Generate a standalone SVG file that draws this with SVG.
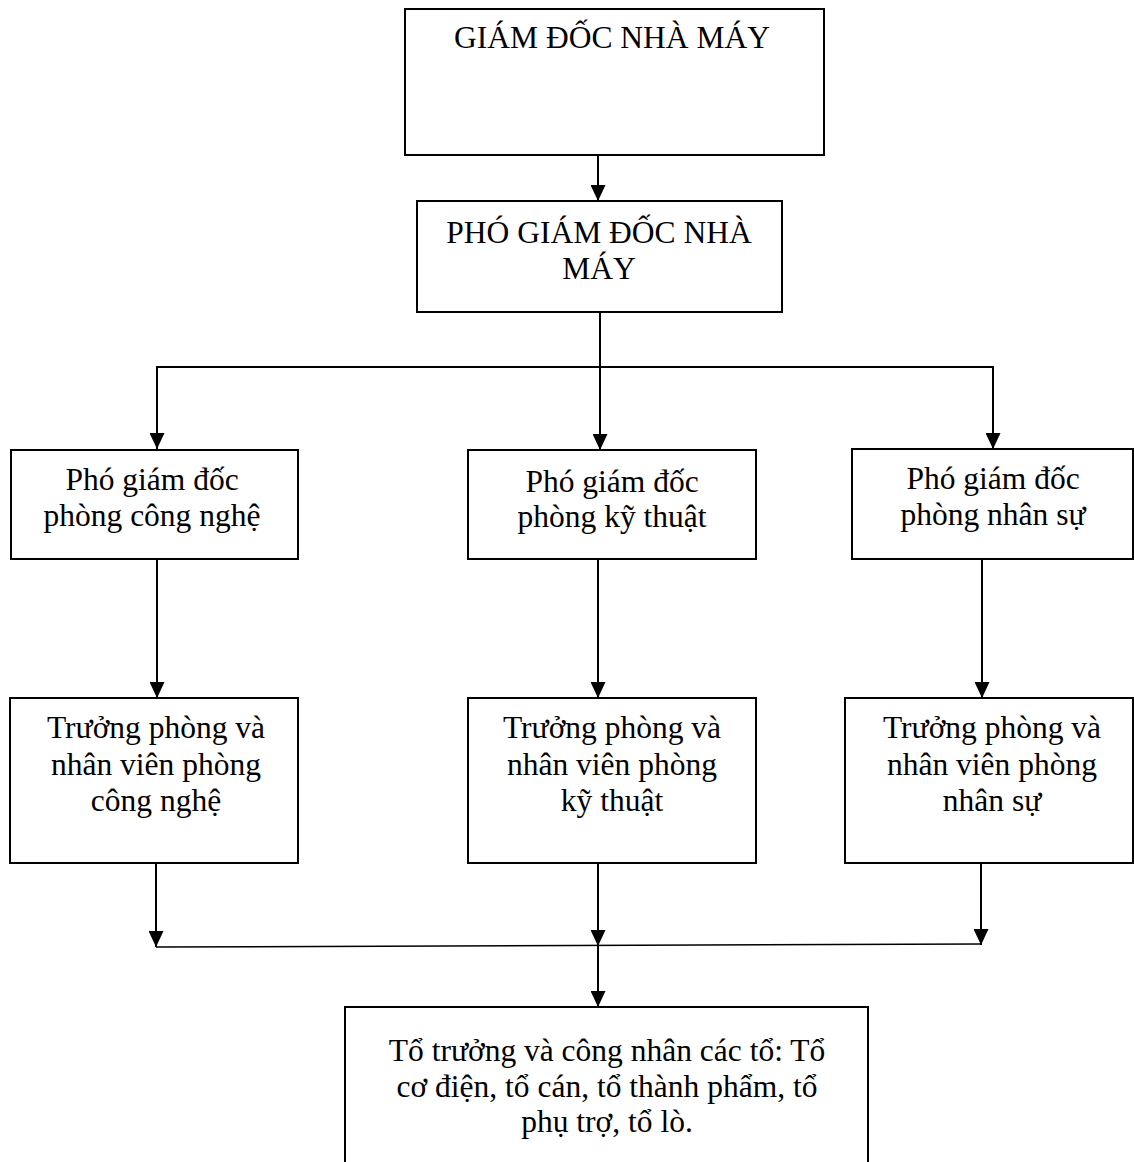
<svg xmlns="http://www.w3.org/2000/svg" width="1134" height="1162" viewBox="0 0 1134 1162">
  <style>
    .box { fill: #ffffff; stroke: #000000; stroke-width: 2; }
    .lbl { font-family: "Liberation Serif", "Times New Roman", serif; font-size: 31.5px; fill: #000000; text-anchor: middle; }
    .wire { fill: none; stroke: #000000; stroke-width: 2; }
    .thin { fill: none; stroke: #000000; stroke-width: 1.5; }
  </style>
  <defs>
    <marker id="head" markerUnits="userSpaceOnUse" markerWidth="16" markerHeight="15" refX="16" refY="7.5" orient="auto">
      <path d="M0,0 L16,7.5 L0,15 Z" fill="#000000"/>
    </marker>
  </defs>
  <rect width="1134" height="1162" fill="#ffffff"/>

  <!-- connectors -->
  <g id="connectors">
    <line class="wire" x1="598" y1="155" x2="598" y2="201" marker-end="url(#head)"/>
    <line class="wire" x1="600" y1="312" x2="600" y2="450" marker-end="url(#head)"/>
    <line class="wire" x1="156" y1="367" x2="994" y2="367"/>
    <line class="wire" x1="157" y1="366" x2="157" y2="449" marker-end="url(#head)"/>
    <line class="wire" x1="993" y1="366" x2="993" y2="449" marker-end="url(#head)"/>
    <line class="wire" x1="157" y1="559" x2="157" y2="698" marker-end="url(#head)"/>
    <line class="wire" x1="598" y1="559" x2="598" y2="698" marker-end="url(#head)"/>
    <line class="wire" x1="982" y1="559" x2="982" y2="698" marker-end="url(#head)"/>
    <line class="wire" x1="156" y1="863" x2="156" y2="947" marker-end="url(#head)"/>
    <line class="wire" x1="598" y1="863" x2="598" y2="946" marker-end="url(#head)"/>
    <line class="wire" x1="981" y1="863" x2="981" y2="945" marker-end="url(#head)"/>
    <line class="thin" x1="156" y1="947" x2="981" y2="944"/>
    <line class="wire" x1="598" y1="946" x2="598" y2="1007" marker-end="url(#head)"/>
  </g>

  <!-- level 1 -->
  <g id="giam-doc">
    <rect class="box" x="405" y="9" width="419" height="146"/>
    <text class="lbl" x="612" y="48">GIÁM ĐỐC NHÀ MÁY</text>
  </g>

  <!-- level 2 -->
  <g id="pho-giam-doc">
    <rect class="box" x="417" y="201" width="365" height="111"/>
    <text class="lbl" x="599" y="243">PHÓ GIÁM ĐỐC NHÀ</text>
    <text class="lbl" x="599" y="279">MÁY</text>
  </g>

  <!-- level 3 -->
  <g id="pgd-cong-nghe">
    <rect class="box" x="11" y="450" width="287" height="109"/>
    <text class="lbl" x="152" y="490">Phó giám đốc</text>
    <text class="lbl" x="152" y="526">phòng công nghệ</text>
  </g>
  <g id="pgd-ky-thuat">
    <rect class="box" x="468" y="450" width="288" height="109"/>
    <text class="lbl" x="612" y="492">Phó giám đốc</text>
    <text class="lbl" x="612" y="527">phòng kỹ thuật</text>
  </g>
  <g id="pgd-nhan-su">
    <rect class="box" x="852" y="449" width="281" height="110"/>
    <text class="lbl" x="993" y="489">Phó giám đốc</text>
    <text class="lbl" x="993" y="525">phòng nhân sự</text>
  </g>

  <!-- level 4 -->
  <g id="tp-cong-nghe">
    <rect class="box" x="10" y="698" width="288" height="165"/>
    <text class="lbl" x="156" y="738">Trưởng phòng và</text>
    <text class="lbl" x="156" y="775">nhân viên phòng</text>
    <text class="lbl" x="156" y="811">công nghệ</text>
  </g>
  <g id="tp-ky-thuat">
    <rect class="box" x="468" y="698" width="288" height="165"/>
    <text class="lbl" x="612" y="738">Trưởng phòng và</text>
    <text class="lbl" x="612" y="775">nhân viên phòng</text>
    <text class="lbl" x="612" y="811">kỹ thuật</text>
  </g>
  <g id="tp-nhan-su">
    <rect class="box" x="845" y="698" width="288" height="165"/>
    <text class="lbl" x="992" y="738">Trưởng phòng và</text>
    <text class="lbl" x="992" y="775">nhân viên phòng</text>
    <text class="lbl" x="992" y="811">nhân sự</text>
  </g>

  <!-- level 5 -->
  <g id="to-truong">
    <rect class="box" x="345" y="1007" width="523" height="170"/>
    <text class="lbl" x="607" y="1061">Tổ trưởng và công nhân các tổ: Tổ</text>
    <text class="lbl" x="607" y="1097">cơ điện, tổ cán, tổ thành phẩm, tổ</text>
    <text class="lbl" x="607" y="1132">phụ trợ, tổ lò.</text>
  </g>
</svg>
